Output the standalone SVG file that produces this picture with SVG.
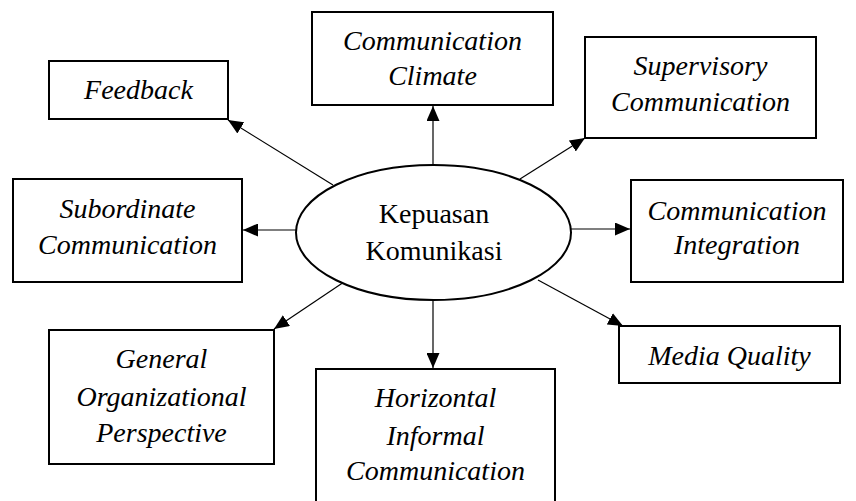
<svg xmlns="http://www.w3.org/2000/svg" width="856" height="501" viewBox="0 0 856 501">
<defs>
<marker id="arr" markerUnits="userSpaceOnUse" markerWidth="16" markerHeight="13" refX="15" refY="6.5" orient="auto">
<path d="M0,0 L15,6.5 L0,13 z" fill="#000"/>
</marker>
</defs>
<rect width="856" height="501" fill="#fff"/>
<g id="connectors" stroke="#000" stroke-width="1.2" fill="none" marker-end="url(#arr)">
<line x1="333" y1="185" x2="228" y2="120"/>
<line x1="433" y1="165" x2="433" y2="106"/>
<line x1="520" y1="179" x2="585" y2="138"/>
<line x1="296" y1="230" x2="243" y2="230"/>
<line x1="571" y1="229" x2="630" y2="229"/>
<line x1="344" y1="282" x2="274" y2="329"/>
<line x1="433" y1="300" x2="433" y2="368"/>
<line x1="538" y1="280" x2="623" y2="326"/>
</g>
<g id="center">
<ellipse cx="433.5" cy="232.5" rx="137.5" ry="67.5" fill="#fff" stroke="#000" stroke-width="2"/>
<text font-family="Liberation Serif" font-size="28" text-anchor="middle" x="434" y="223">Kepuasan</text>
<text font-family="Liberation Serif" font-size="28" text-anchor="middle" x="434" y="260">Komunikasi</text>
</g>
<g id="feedback">
<rect x="49" y="61" width="179" height="58" fill="#fff" stroke="#000" stroke-width="2"/>
<text font-family="Liberation Serif" font-size="28" font-style="italic" text-anchor="middle" x="138.5" y="99">Feedback</text>
</g>
<g id="climate">
<rect x="312" y="12" width="241" height="93" fill="#fff" stroke="#000" stroke-width="2"/>
<text font-family="Liberation Serif" font-size="28" font-style="italic" text-anchor="middle" x="432.5" y="50">Communication</text>
<text font-family="Liberation Serif" font-size="28" font-style="italic" text-anchor="middle" x="432.5" y="85">Climate</text>
</g>
<g id="supervisory">
<rect x="585" y="37" width="231" height="101" fill="#fff" stroke="#000" stroke-width="2"/>
<text font-family="Liberation Serif" font-size="28" font-style="italic" text-anchor="middle" x="700.5" y="75">Supervisory</text>
<text font-family="Liberation Serif" font-size="28" font-style="italic" text-anchor="middle" x="700.5" y="111">Communication</text>
</g>
<g id="subordinate">
<rect x="13" y="179" width="229" height="103" fill="#fff" stroke="#000" stroke-width="2"/>
<text font-family="Liberation Serif" font-size="28" font-style="italic" text-anchor="middle" x="127.5" y="218">Subordinate</text>
<text font-family="Liberation Serif" font-size="28" font-style="italic" text-anchor="middle" x="127.5" y="254">Communication</text>
</g>
<g id="integration">
<rect x="631" y="180" width="212" height="102" fill="#fff" stroke="#000" stroke-width="2"/>
<text font-family="Liberation Serif" font-size="28" font-style="italic" text-anchor="middle" x="737" y="220">Communication</text>
<text font-family="Liberation Serif" font-size="28" font-style="italic" text-anchor="middle" x="737" y="254">Integration</text>
</g>
<g id="general">
<rect x="49" y="330" width="225" height="134" fill="#fff" stroke="#000" stroke-width="2"/>
<text font-family="Liberation Serif" font-size="28" font-style="italic" text-anchor="middle" x="161.5" y="368">General</text>
<text font-family="Liberation Serif" font-size="28" font-style="italic" text-anchor="middle" x="161.5" y="406">Organizational</text>
<text font-family="Liberation Serif" font-size="28" font-style="italic" text-anchor="middle" x="161.5" y="442">Perspective</text>
</g>
<g id="horizontal">
<rect x="316" y="369" width="239" height="145" fill="#fff" stroke="#000" stroke-width="2"/>
<text font-family="Liberation Serif" font-size="28" font-style="italic" text-anchor="middle" x="435.5" y="407">Horizontal</text>
<text font-family="Liberation Serif" font-size="28" font-style="italic" text-anchor="middle" x="435.5" y="445">Informal</text>
<text font-family="Liberation Serif" font-size="28" font-style="italic" text-anchor="middle" x="435.5" y="480">Communication</text>
</g>
<g id="media">
<rect x="619" y="326" width="221" height="57" fill="#fff" stroke="#000" stroke-width="2"/>
<text font-family="Liberation Serif" font-size="28" font-style="italic" text-anchor="middle" x="729.5" y="365">Media Quality</text>
</g>
</svg>
